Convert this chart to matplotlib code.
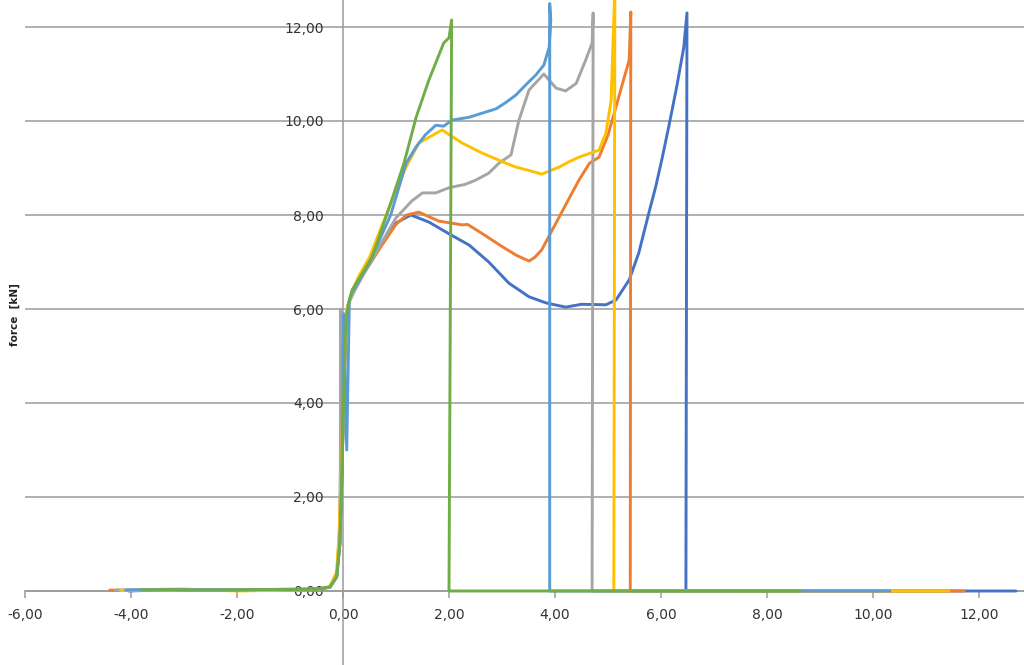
import matplotlib
matplotlib.use("Agg")
import matplotlib.pyplot as plt
from matplotlib.ticker import FixedLocator, FuncFormatter

# displacement [mm] / force [kN] curves of six specimens
blue_x = [-4.05, -3.5, -3.0, -2.5, -2.0, -1.5, -1.0, -0.5, -0.25, -0.12, -0.06, -0.02,
          0.02, 0.06, 0.1, 0.17, 0.35, 0.53, 0.68, 1.0, 1.28, 1.62, 2.0, 2.38, 2.75,
          3.13, 3.51, 3.83, 4.2, 4.5, 4.96, 5.15, 5.4, 5.58, 5.77, 5.9, 6.02, 6.15,
          6.3, 6.43, 6.49, 6.47, 8.0, 10.0, 12.7]
blue_y = [0.0, 0.02, 0.03, 0.01, 0.02, 0.03, 0.03, 0.04, 0.08, 0.3, 1.0, 2.5,
          4.5, 5.8, 6.1, 6.34, 6.7, 7.0, 7.32, 7.83, 8.0, 7.85, 7.6, 7.36, 7.0,
          6.55, 6.26, 6.13, 6.04, 6.1, 6.09, 6.19, 6.62, 7.19, 8.04, 8.6, 9.2, 9.9,
          10.75, 11.57, 12.3, 0.0, 0.0, 0.0, 0.0]

orange_x = [-4.4, -4.0, -3.5, -3.0, -2.5, -2.0, -1.5, -1.0, -0.5, -0.25, -0.12, -0.06,
            -0.02, 0.02, 0.06, 0.1, 0.17, 0.35, 0.53, 0.7, 1.0, 1.2, 1.43, 1.81, 2.25,
            2.35, 2.62, 3.0, 3.26, 3.51, 3.62, 3.75, 4.08, 4.45, 4.65, 4.83, 5.0,
            5.15, 5.4, 5.43, 5.42, 8.0, 10.0, 11.72]
orange_y = [0.02, 0.01, 0.02, 0.03, 0.02, 0.03, 0.02, 0.03, 0.04, 0.08, 0.3, 1.0,
            2.5, 4.5, 5.8, 6.1, 6.3, 6.7, 7.0, 7.3, 7.8, 8.0, 8.06, 7.87, 7.79,
            7.8, 7.61, 7.33, 7.15, 7.02, 7.1, 7.26, 7.96, 8.74, 9.1, 9.23, 9.7,
            10.3, 11.3, 12.32, 0.0, 0.0, 0.0, 0.0]

gray_x = [-4.3, -3.8, -3.0, -2.4, -2.0, -1.5, -1.0, -0.5, -0.25, -0.12, -0.07, -0.05,
          -0.045, -0.035, 0.0, 0.03, 0.06, 0.1, 0.2, 0.36, 0.55, 0.68, 1.0, 1.3,
          1.5, 1.75, 2.0, 2.3, 2.5, 2.75, 2.94, 3.17, 3.32, 3.51, 3.79, 4.02, 4.2,
          4.4, 4.58, 4.7, 4.72, 4.7, 6.0, 7.5]
gray_y = [0.02, 0.03, 0.04, 0.02, 0.03, 0.02, 0.03, 0.04, 0.08, 0.3, 1.2, 2.64,
          6.0, 2.8, 3.3, 4.5, 5.8, 6.1, 6.35, 6.68, 7.05, 7.32, 7.94, 8.3,
          8.47, 8.47, 8.58, 8.65, 8.74, 8.89, 9.1, 9.28, 10.02, 10.66, 11.0, 10.7, 10.64,
          10.8, 11.3, 11.66, 12.3, 0.0, 0.0, 0.0]

yellow_x = [-4.2, -3.6, -3.0, -2.5, -2.0, -1.5, -1.0, -0.5, -0.25, -0.12, -0.07, -0.03,
            0.01, 0.05, 0.1, 0.2, 0.3, 0.5, 0.92, 1.19, 1.43, 1.87, 2.25, 2.62, 3.08,
            3.26, 3.5, 3.75, 4.08, 4.26, 4.45, 4.83, 4.96, 5.06, 5.09, 5.13, 5.11,
            8.0, 10.0, 11.43]
yellow_y = [0.01, 0.02, 0.01, 0.02, 0.0, 0.01, 0.02, 0.03, 0.1, 0.4, 1.3, 2.8,
            4.6, 5.9, 6.1, 6.45, 6.7, 7.1, 8.3, 9.02, 9.53, 9.81, 9.53, 9.32, 9.1,
            9.02, 8.95, 8.87, 9.02, 9.13, 9.23, 9.38, 9.74, 10.45, 11.5, 12.9, 0.0,
            0.0, 0.0, 0.0]

lightblue_x = [-4.1, -3.6, -3.0, -2.5, -2.0, -1.5, -1.0, -0.5, -0.25, -0.12, -0.06,
               -0.02, 0.01, 0.07, 0.12, 0.17, 0.5, 0.9, 1.19, 1.38, 1.55, 1.75, 1.9,
               2.06, 2.38, 2.89, 3.08, 3.26, 3.45, 3.64, 3.79, 3.89, 3.92, 3.9, 3.9,
               6.0, 8.0, 10.32]
lightblue_y = [0.02, 0.03, 0.02, 0.03, 0.02, 0.03, 0.04, 0.04, 0.08, 0.3, 1.0,
               2.5, 5.9, 3.0, 6.2, 6.35, 7.0, 8.0, 9.1, 9.45, 9.7, 9.91, 9.89,
               10.02, 10.08, 10.26, 10.4, 10.55, 10.77, 10.98, 11.19, 11.57, 12.15, 12.5, 0.0,
               0.0, 0.0, 0.0]

green_x = [-3.8, -3.3, -2.8, -2.2, -1.6, -1.0, -0.5, -0.25, -0.12, -0.06, -0.02,
           0.02, 0.06, 0.1, 0.17, 0.55, 0.92, 1.15, 1.38, 1.62, 1.9, 2.0, 2.05, 2.0,
           4.0, 6.0, 8.64]
green_y = [0.02, 0.03, 0.02, 0.02, 0.03, 0.03, 0.04, 0.08, 0.3, 1.0, 2.5,
           4.5, 5.8, 6.1, 6.4, 7.1, 8.32, 9.1, 10.08, 10.87, 11.66, 11.77, 12.15, 0.0,
           0.0, 0.0, 0.0]

series = [
    (blue_x, blue_y, "#4472C4"),
    (orange_x, orange_y, "#ED7D31"),
    (gray_x, gray_y, "#A5A5A5"),
    (yellow_x, yellow_y, "#FFC000"),
    (lightblue_x, lightblue_y, "#5B9BD5"),
    (green_x, green_y, "#70AD47"),
]

x_ticks = [-6, -4, -2, 0, 2, 4, 6, 8, 10, 12]
y_ticks = [0, 2, 4, 6, 8, 10, 12]

W, H = 1024, 665
fig = plt.figure(figsize=(W / 100, H / 100), dpi=100)
ax = fig.add_axes([25 / W, 0, 999 / W, 1])

for xs, ys, col in series:
    ax.plot(xs, ys, color=col, lw=2.1, solid_joinstyle="round",
            solid_capstyle="round", zorder=3)

ax.set_xlim(-6, -6 + 999 / 53.0)
ax.set_ylim(-74 / 47.0, 591 / 47.0)

axis_col = "#9A9A9A"
for s in ("top", "right"):
    ax.spines[s].set_visible(False)
ax.spines["left"].set_position(("data", 0))
ax.spines["bottom"].set_position(("data", 0))
for s in ("left", "bottom"):
    ax.spines[s].set_color(axis_col)
    ax.spines[s].set_linewidth(1.1)
    ax.spines[s].set_zorder(2)

comma = FuncFormatter(lambda v, p: f"{v:.2f}".replace(".", ","))
ax.xaxis.set_major_locator(FixedLocator(x_ticks))
ax.yaxis.set_major_locator(FixedLocator(y_ticks))
ax.xaxis.set_major_formatter(comma)
ax.yaxis.set_major_formatter(comma)
ax.tick_params(axis="x", direction="out", length=5, width=1.1, color=axis_col,
               pad=7, labelsize=10, labelcolor="#333333")
ax.tick_params(axis="y", length=0, pad=14, labelsize=10, labelcolor="#333333")

ax.grid(axis="y", color=axis_col, lw=1.1, zorder=1)
ax.set_axisbelow(True)

fig.text(15 / W, 1 - 315 / H, "force  [kN]", rotation=90, ha="center", va="center",
         fontsize=7.5, fontweight="bold", color="#222222")

fig.savefig("out.png", dpi=100)
